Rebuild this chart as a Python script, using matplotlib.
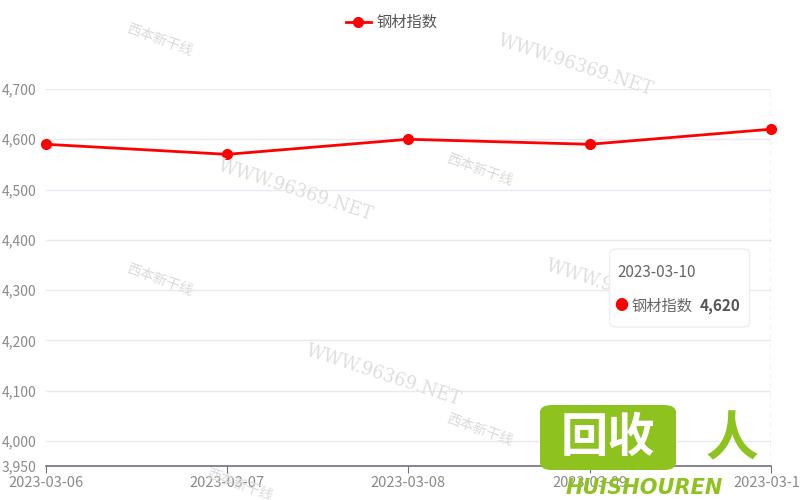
import matplotlib

matplotlib.use("Agg")
import matplotlib.pyplot as plt
from matplotlib.patches import FancyBboxPatch
from matplotlib.lines import Line2D

plt.rcParams["font.family"] = ["Noto Sans CJK SC", "DejaVu Sans"]

DATES = ["2023-03-06", "2023-03-07", "2023-03-08", "2023-03-09", "2023-03-10"]
VALUES = [4590, 4570, 4600, 4590, 4620]
SERIES = "钢材指数"
Y_TICKS = [3950, 4000, 4100, 4200, 4300, 4400, 4500, 4600, 4700]

RED = "#FF0000"
GRID = "#E6EAF3"
AXIS = "#6E7079"
LABEL = "#8A8A8A"
GREEN = "#8DC21F"

fig = plt.figure(figsize=(8, 5), dpi=100)
ax = fig.add_axes([0.0575, 0.068, 0.906, 0.754])

x = list(range(len(DATES)))
ax.plot(x, VALUES, color=RED, linewidth=2, marker="o", markersize=7,
        zorder=5, clip_on=False)

ax.set_xlim(0, len(DATES) - 1)
ax.set_ylim(3950, 4700)
ax.set_yticks(Y_TICKS)
ax.set_yticklabels([f"{v:,}" for v in Y_TICKS])
ax.set_xticks(x)
ax.set_xticklabels(DATES)
ax.tick_params(axis="y", length=0, pad=7, labelsize=10, labelcolor=LABEL)
ax.tick_params(axis="x", length=5, color=AXIS, pad=2, labelsize=10.5, labelcolor=LABEL)
for v in Y_TICKS[1:]:
    ax.axhline(v, color=GRID, linewidth=1, zorder=1)
for s in ["top", "right", "left"]:
    ax.spines[s].set_visible(False)
ax.spines["bottom"].set_color(AXIS)
ax.spines["bottom"].set_linewidth(1.2)

# axis pointer at last point
ax.axvline(x[-1], color="#C4C4C4", linewidth=1, linestyle=(0, (4, 3)), zorder=2)

# legend
leg_handle = Line2D([0], [0], color=RED, linewidth=2, marker="o", markersize=7)
fig.legend([leg_handle], [SERIES], loc="center", bbox_to_anchor=(0.49, 0.955),
           frameon=False, fontsize=11, handlelength=1.6, handletextpad=0.4,
           labelcolor="#555555")

# watermarks
marks = [(0.72, 0.87, "WWW.96369.NET"), (0.37, 0.62, "WWW.96369.NET"),
         (0.48, 0.25, "WWW.96369.NET"), (0.78, 0.42, "WWW.96369.NET")]
for mx, my, t in marks:
    fig.text(mx, my, t, fontsize=13, color="#DEDEDE", rotation=-18,
             ha="center", va="center", family="DejaVu Serif", zorder=0)
for mx, my in [(0.2, 0.92), (0.6, 0.66), (0.2, 0.44), (0.6, 0.14), (0.3, 0.03)]:
    fig.text(mx, my, "西本新干线", fontsize=10, color="#DADADA", rotation=-20,
             ha="center", va="center", zorder=0)

# tooltip
tip = FancyBboxPatch((0.762, 0.346), 0.175, 0.156, transform=fig.transFigure,
                     boxstyle="round,pad=0,rounding_size=0.01",
                     facecolor="white", edgecolor="#EEEEEE", linewidth=1,
                     zorder=10)
fig.patches.append(tip)
fig.text(0.772, 0.455, DATES[-1], fontsize=11, color="#666666", va="center", zorder=11)
fig.text(0.777, 0.388, "●", fontsize=10, color=RED, ha="center", va="center", zorder=11)
fig.text(0.789, 0.387, SERIES, fontsize=11, color="#666666", va="center", zorder=11)
fig.text(0.926, 0.387, f"{VALUES[-1]:,}", fontsize=11, color="#555555",
         fontweight="bold", ha="right", va="center", zorder=11)

# logo overlay
logo = FancyBboxPatch((0.675, 0.06), 0.17, 0.13, transform=fig.transFigure,
                      boxstyle="round,pad=0,rounding_size=0.015",
                      facecolor=GREEN, edgecolor="none", zorder=12)
fig.patches.append(logo)
fig.text(0.76, 0.125, "回收", fontsize=34, color="white", fontweight="bold",
         ha="center", va="center", zorder=13)
fig.text(0.915, 0.12, "人", fontsize=38, color=GREEN, fontweight="bold",
         ha="center", va="center", zorder=13)
fig.text(0.805, 0.025, "HUISHOUREN", fontsize=15, color=GREEN, fontweight="bold",
         style="italic", ha="center", va="center", family="DejaVu Sans", zorder=13)

fig.savefig("out.png", dpi=100, facecolor="white")
